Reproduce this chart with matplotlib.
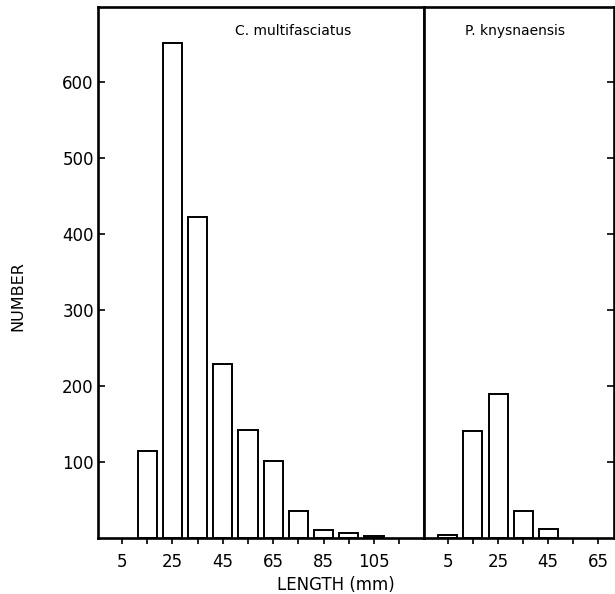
import matplotlib
matplotlib.use("Agg")
import matplotlib.pyplot as plt
from matplotlib.ticker import FixedLocator

# Length-class midpoints (mm) and counts per class
cm_lengths = [15, 25, 35, 45, 55, 65, 75, 85, 95, 105]
cm_counts = [114, 652, 422, 229, 142, 102, 35, 11, 7, 3]

pk_lengths = [5, 15, 25, 35, 45]
pk_counts = [4, 141, 190, 36, 12]

y_ticks = [100, 200, 300, 400, 500, 600]
x_major = [5, 25, 45, 65, 85, 105]
x_minor = [15, 35, 55, 75, 95, 115]

plt.rcParams["font.family"] = ["DejaVu Sans"]

fig = plt.figure(figsize=(6.15, 5.94), dpi=100)
left, bottom, height = 98 / 615, 1 - 538 / 594, (538 - 7) / 594
ax1 = fig.add_axes([left, bottom, (424 - 98) / 615, height])
ax2 = fig.add_axes([424 / 615, bottom, (614 - 424) / 615, height])

bar_kw = dict(width=7.6, facecolor="white", edgecolor="black", linewidth=1.4)
ax1.bar(cm_lengths, cm_counts, **bar_kw)
ax2.bar(pk_lengths, pk_counts, **bar_kw)

for ax in (ax1, ax2):
    ax.set_ylim(0, 699)
    for s in ax.spines.values():
        s.set_linewidth(1.9)
    ax.tick_params(axis="x", which="both", direction="out", length=4,
                   width=1.2, labelsize=12, pad=7)
    ax.xaxis.set_minor_locator(FixedLocator(x_minor))

ax1.set_xlim(-4.5, 124.8)
ax1.set_xticks(x_major)
ax1.set_yticks(y_ticks)
ax1.tick_params(axis="y", direction="in", length=5, width=1.2,
                labelsize=12, pad=3)
ax1.set_ylabel("NUMBER", fontsize=11.5)
ax1.yaxis.set_label_coords(-0.224, 0.455)
ax1.set_xlabel("LENGTH (mm)", fontsize=12)
ax1.xaxis.set_label_coords(0.73, -0.072)
ax1.text(0.6, 0.955, "C. multifasciatus", transform=ax1.transAxes,
         ha="center", va="center", fontsize=10)

ax2.set_xlim(-4.5, 71.2)
ax2.set_xticks([5, 25, 45, 65])
ax2.set_yticks(y_ticks)
ax2.yaxis.tick_right()
ax2.tick_params(axis="y", direction="in", length=5, width=1.2,
                labelright=False, labelleft=False)
ax2.text(0.48, 0.955, "P. knysnaensis", transform=ax2.transAxes,
         ha="center", va="center", fontsize=10)

fig.savefig("out.png", dpi=100)
